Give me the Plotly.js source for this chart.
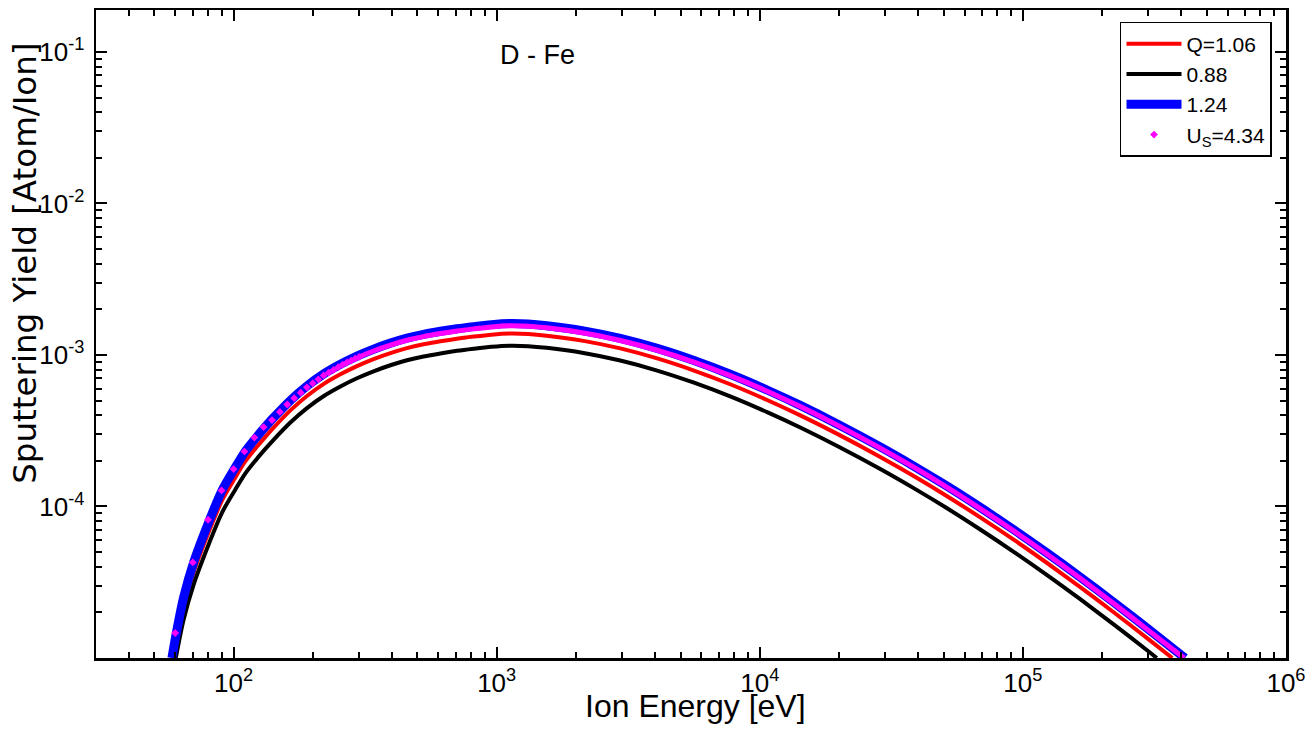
<!DOCTYPE html>
<html><head><meta charset="utf-8">
<script src="https://cdn.plot.ly/plotly-3.0.1.min.js"></script>
<style>body{margin:0;background:#fff}</style>
</head><body>
<div id="chart" style="width:1314px;height:733px"></div>
<script>
// Q = 1.06 (red)
const q106E = [59.2,60.6,64.6,70.5,81.1,90.4,100.7,110.7,121.9,131.8,141.9,164.4,190.1,220.3,254.7,294.4,340.4,394.5,456,527,611,706,817,955,1122,1318,1549,2138,2951,4074,5623,7762,10715,14256,19953,28708,38459,51523,68865,92257,123595,165196,221309,296483,369800];
const q106Y = [1.0e-5,1.256e-5,2.158e-5,3.673e-5,7.015e-5,1.0965e-4,1.517e-4,1.982e-4,2.449e-4,2.871e-4,3.311e-4,4.305e-4,5.358e-4,6.442e-4,7.447e-4,8.433e-4,9.376e-4,1.0280e-3,1.1092e-3,1.1749e-3,1.2303e-3,1.2794e-3,1.3213e-3,1.3614e-3,1.3836e-3,1.3740e-3,1.3397e-3,1.2388e-3,1.1041e-3,9.484e-4,7.889e-4,6.383e-4,5.023e-4,3.990e-4,2.979e-4,2.123e-4,1.589e-4,1.169e-4,8.472e-5,6.039e-5,4.236e-5,2.938e-5,2.004e-5,1.352e-5,1.0e-5];
// Q = 0.88 (black)
const q088E = [60.3,64.6,70.5,81.1,90.4,100.7,110.7,121.9,131.8,141.9,164.4,190.1,220.3,254.7,294.4,340.4,394.5,456,527,611,706,817,955,1122,1318,1549,2138,2951,4074,5623,7762,10715,14256,19953,28708,38459,51523,68865,92257,123595,165196,221309,296483,322800];
const q088Y = [1.0e-5,1.795e-5,3.055e-5,5.834e-5,9.120e-5,1.262e-4,1.648e-4,2.037e-4,2.388e-4,2.754e-4,3.581e-4,4.457e-4,5.358e-4,6.194e-4,7.015e-4,7.798e-4,8.551e-4,9.226e-4,9.772e-4,1.0233e-3,1.0641e-3,1.0990e-3,1.1324e-3,1.1508e-3,1.1429e-3,1.1143e-3,1.0304e-3,9.183e-4,7.889e-4,6.561e-4,5.309e-4,4.178e-4,3.319e-4,2.477e-4,1.766e-4,1.321e-4,9.727e-5,7.047e-5,5.023e-5,3.524e-5,2.443e-5,1.667e-5,1.125e-5,1.0e-5];
// Q = 1.24 (blue)
const q124E = [58.3,60.6,64.6,70.5,81.1,90.4,100.7,110.7,121.9,131.8,141.9,164.4,190.1,220.3,254.7,294.4,340.4,394.5,456,527,611,706,817,955,1122,1318,1549,2138,2951,4074,5623,7762,10715,14256,19953,28708,38459,51523,68865,92257,123595,165196,221309,296483,413000];
const q124Y = [1.0e-5,1.462e-5,2.512e-5,4.276e-5,8.166e-5,1.276e-4,1.766e-4,2.307e-4,2.851e-4,3.342e-4,3.855e-4,5.012e-4,6.237e-4,7.499e-4,8.670e-4,9.817e-4,1.0914e-3,1.1967e-3,1.2912e-3,1.3677e-3,1.4322e-3,1.4894e-3,1.5382e-3,1.5849e-3,1.6106e-3,1.5995e-3,1.5596e-3,1.4421e-3,1.2853e-3,1.1041e-3,9.183e-4,7.430e-4,5.848e-4,4.645e-4,3.467e-4,2.472e-4,1.849e-4,1.361e-4,9.863e-5,7.031e-5,4.932e-5,3.420e-5,2.333e-5,1.574e-5,1.0e-5];
// Us = 4.34 (magenta) - separated points at low energy
const usPtE = [60,70,80,90,100,110,120,130,140,150,160,170,180,190,200,210,220,230,240,250,260,270,280,290,300];
const usPtY = [1.462e-5,4.276e-5,8.17e-5,1.276e-4,1.766e-4,2.307e-4,2.851e-4,3.342e-4,3.715e-4,4.207e-4,4.710e-4,5.188e-4,5.636e-4,6.109e-4,6.501e-4,6.902e-4,7.328e-4,7.638e-4,7.962e-4,8.299e-4,8.630e-4,8.913e-4,9.183e-4,9.462e-4,9.705e-4];
// Us = 4.34 (magenta) - dense points above 300 eV (merge into a band)
const usBandE = [300,340.4,394.5,456,527,611,706,817,955,1122,1318,1549,2138,2951,4074,5623,7762,10715,14256,19953,28708,38459,51523,68865,92257,123595,165196,221309,296483,410000];
const usBandY = [9.705e-4,1.0617e-3,1.1614e-3,1.2503e-3,1.3213e-3,1.3836e-3,1.4388e-3,1.4859e-3,1.5311e-3,1.5560e-3,1.5453e-3,1.5101e-3,1.3964e-3,1.2445e-3,1.0740e-3,8.974e-4,7.278e-4,5.741e-4,4.560e-4,3.404e-4,2.427e-4,1.816e-4,1.337e-4,9.683e-5,6.902e-5,4.842e-5,3.357e-5,2.291e-5,1.545e-5,1.0e-5];

const xTickVals = [1e2,1e3,1e4,1e5,1e6];
const xTickText = ['10<sup>2</sup>','10<sup>3</sup>','10<sup>4</sup>','10<sup>5</sup>','10<sup>6</sup>'];
const yTickVals = [1e-4,1e-3,1e-2,1e-1];
const yTickText = ['10<sup>-4</sup>','10<sup>-3</sup>','10<sup>-2</sup>','10<sup>-1</sup>'];

const minorX = [];
for (let d = 1; d <= 5; d++) for (let k = 2; k <= 9; k++) minorX.push(k * Math.pow(10, d));
const minorY = [];
for (let d = -5; d <= -1; d++) for (let k = 2; k <= 9; k++) minorY.push(k * Math.pow(10, d));

const FONT = 'Liberation Sans, Arial, sans-serif';

const traces = [
  {x: q106E, y: q106Y, mode: 'lines', name: 'Q=1.06', line: {color: '#ff0000', width: 4, shape: 'spline', smoothing: 0.8}},
  {x: q088E, y: q088Y, mode: 'lines', name: '0.88', line: {color: '#000000', width: 4, shape: 'spline', smoothing: 0.8}},
  {x: q124E, y: q124Y, mode: 'lines', name: '1.24', line: {color: '#0000ff', width: 9, shape: 'spline', smoothing: 0.8}},
  {x: usPtE, y: usPtY, mode: 'markers', name: 'U<sub>S</sub>=4.34', marker: {color: '#ff00ff', size: 6, symbol: 'diamond'}},
  {x: usBandE, y: usBandY, mode: 'lines', name: 'U<sub>S</sub>=4.34', showlegend: false, line: {color: '#ff00ff', width: 5, shape: 'spline', smoothing: 0.8}}
];

const axisCommon = {
  type: 'log', ticks: 'inside', ticklen: 11, tickwidth: 2, tickcolor: '#000',
  showline: true, linewidth: 2.5, linecolor: '#000', mirror: 'ticks',
  showgrid: false, zeroline: false, automargin: false,
  tickfont: {family: FONT, size: 26, color: '#000'}
};

const layout = {
  width: 1314, height: 733,
  margin: {l: 96, r: 28, t: 10, b: 75},
  paper_bgcolor: '#fff', plot_bgcolor: '#fff',
  font: {family: FONT, color: '#000'},
  showlegend: true,
  xaxis: Object.assign({}, axisCommon, {
    range: [Math.log10(30), 6.0001],
    tickmode: 'array', tickvals: xTickVals, ticktext: xTickText,
    minor: {tickmode: 'array', tickvals: minorX, ticks: 'inside', ticklen: 6, tickwidth: 2, tickcolor: '#000', showgrid: false}
  }),
  yaxis: Object.assign({}, axisCommon, {
    range: [-5, -0.7236],
    tickmode: 'array', tickvals: yTickVals, ticktext: yTickText,
    ticklabelstandoff: 4,
    minor: {tickmode: 'array', tickvals: minorY, ticks: 'inside', ticklen: 6, tickwidth: 2, tickcolor: '#000', showgrid: false}
  }),
  legend: {
    x: 0.8605, y: 0.9815, xanchor: 'left', yanchor: 'top',
    bgcolor: '#fff', bordercolor: '#000', borderwidth: 1.5,
    font: {family: FONT, size: 21, color: '#000'},
    tracegroupgap: 0, itemwidth: 55
  },
  annotations: [
    {text: 'D - Fe', xref: 'paper', yref: 'paper', x: 0.3714, y: 0.9306, xanchor: 'center', yanchor: 'middle', showarrow: false, font: {family: FONT, size: 27, color: '#000'}},
    {text: 'Ion Energy [eV]', xref: 'paper', yref: 'paper', x: 0.5034, y: -0.0745, xanchor: 'center', yanchor: 'middle', showarrow: false, font: {family: FONT, size: 32, color: '#000'}},
    {text: 'Sputtering Yield [Atom/Ion]', xref: 'paper', yref: 'paper', x: -0.0597, y: 0.6098, xanchor: 'center', yanchor: 'middle', textangle: -90, showarrow: false, font: {family: 'DejaVu Sans, Liberation Sans, sans-serif', size: 32.5, color: '#000'}}
  ]
};

Plotly.newPlot('chart', traces, layout, {displayModeBar: false, staticPlot: true});
</script>
</body></html>
